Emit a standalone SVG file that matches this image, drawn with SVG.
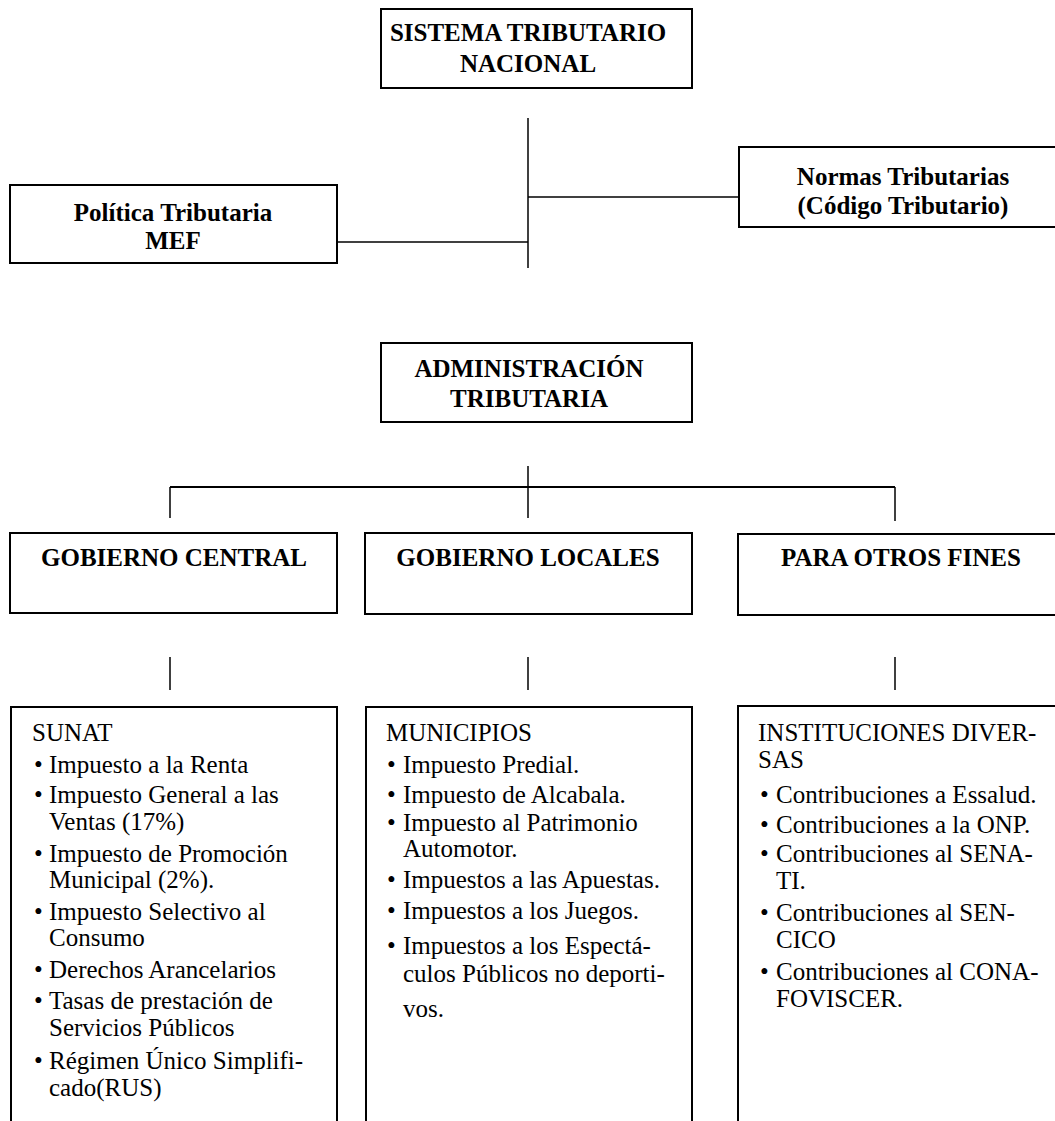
<svg xmlns="http://www.w3.org/2000/svg" width="1055" height="1121" viewBox="0 0 1055 1121">
<style>
.box{fill:#fff;stroke:#000;stroke-width:2}
.ln{stroke:#000;stroke-width:1.5;fill:none}
.hd{font-family:"Liberation Serif","Times New Roman",serif;font-weight:bold;font-size:25px;fill:#000;text-anchor:middle}
.tx{font-family:"Liberation Serif","Times New Roman",serif;font-size:25px;fill:#000}
</style>
<rect width="1055" height="1121" fill="#fff"/>
<g id="connectors">
<line class="ln" x1="528" y1="118" x2="528" y2="268"/>
<line class="ln" x1="337" y1="242" x2="528" y2="242"/>
<line class="ln" x1="528" y1="197" x2="739" y2="197"/>
<line class="ln" x1="528" y1="466" x2="528" y2="518"/>
<line class="ln" x1="170" y1="487" x2="895" y2="487" style="stroke-width:2"/>
<line class="ln" x1="170" y1="487" x2="170" y2="518"/>
<line class="ln" x1="895" y1="487" x2="895" y2="521"/>
<line class="ln" x1="170" y1="657" x2="170" y2="690"/>
<line class="ln" x1="528" y1="657" x2="528" y2="690"/>
<line class="ln" x1="895" y1="657" x2="895" y2="690"/>
</g>
<g id="sistema">
<rect class="box" x="381" y="9" width="311" height="79"/>
<text class="hd" x="528" y="41">SISTEMA TRIBUTARIO</text>
<text class="hd" x="528" y="72">NACIONAL</text>
</g>
<g id="politica">
<rect class="box" x="10" y="185" width="327" height="78"/>
<text class="hd" x="173" y="221">Política Tributaria</text>
<text class="hd" x="173" y="249">MEF</text>
</g>
<g id="normas">
<rect class="box" x="739" y="147" width="330" height="80"/>
<text class="hd" x="903" y="185">Normas Tributarias</text>
<text class="hd" x="903" y="214">(Código Tributario)</text>
</g>
<g id="administracion">
<rect class="box" x="381" y="343" width="311" height="79"/>
<text class="hd" x="529" y="377">ADMINISTRACIÓN</text>
<text class="hd" x="529" y="407">TRIBUTARIA</text>
</g>
<g id="gobierno-central">
<rect class="box" x="10" y="533" width="327" height="80"/>
<text class="hd" x="174" y="566">GOBIERNO CENTRAL</text>
</g>
<g id="gobierno-locales">
<rect class="box" x="365" y="533" width="327" height="81"/>
<text class="hd" x="528" y="566">GOBIERNO LOCALES</text>
</g>
<g id="otros-fines">
<rect class="box" x="738" y="534" width="330" height="81"/>
<text class="hd" x="901" y="566">PARA OTROS FINES</text>
</g>
<g id="sunat">
<rect class="box" x="11" y="707" width="326" height="430"/>
<text class="tx" x="32" y="741">SUNAT</text>
<text class="tx" x="34" y="773">•</text><text class="tx" x="49" y="773">Impuesto a la Renta</text>
<text class="tx" x="34" y="803">•</text><text class="tx" x="49" y="803">Impuesto General a las</text>
<text class="tx" x="49" y="830">Ventas (17%)</text>
<text class="tx" x="34" y="862">•</text><text class="tx" x="49" y="862">Impuesto de Promoción</text>
<text class="tx" x="49" y="888">Municipal (2%).</text>
<text class="tx" x="34" y="920">•</text><text class="tx" x="49" y="920">Impuesto Selectivo al</text>
<text class="tx" x="49" y="946">Consumo</text>
<text class="tx" x="34" y="978">•</text><text class="tx" x="49" y="978">Derechos Arancelarios</text>
<text class="tx" x="34" y="1009">•</text><text class="tx" x="49" y="1009">Tasas de prestación de</text>
<text class="tx" x="49" y="1036">Servicios Públicos</text>
<text class="tx" x="34" y="1069">•</text><text class="tx" x="49" y="1069">Régimen Único Simplifi-</text>
<text class="tx" x="49" y="1096">cado(RUS)</text>
</g>
<g id="municipios">
<rect class="box" x="366" y="707" width="326" height="430"/>
<text class="tx" x="386" y="741">MUNICIPIOS</text>
<text class="tx" x="387" y="773">•</text><text class="tx" x="403" y="773">Impuesto Predial.</text>
<text class="tx" x="387" y="803">•</text><text class="tx" x="403" y="803">Impuesto de Alcabala.</text>
<text class="tx" x="387" y="831">•</text><text class="tx" x="403" y="831">Impuesto al Patrimonio</text>
<text class="tx" x="403" y="857">Automotor.</text>
<text class="tx" x="387" y="888">•</text><text class="tx" x="403" y="888">Impuestos a las Apuestas.</text>
<text class="tx" x="387" y="919">•</text><text class="tx" x="403" y="919">Impuestos a los Juegos.</text>
<text class="tx" x="387" y="954">•</text><text class="tx" x="403" y="954">Impuestos a los Espectá-</text>
<text class="tx" x="403" y="982">culos Públicos no deporti-</text>
<text class="tx" x="403" y="1017">vos.</text>
</g>
<g id="instituciones">
<rect class="box" x="738" y="706" width="330" height="430"/>
<text class="tx" x="758" y="741">INSTITUCIONES DIVER-</text>
<text class="tx" x="758" y="768">SAS</text>
<text class="tx" x="760" y="803">•</text><text class="tx" x="776" y="803">Contribuciones a Essalud.</text>
<text class="tx" x="760" y="833">•</text><text class="tx" x="776" y="833">Contribuciones a la ONP.</text>
<text class="tx" x="760" y="862">•</text><text class="tx" x="776" y="862">Contribuciones al SENA-</text>
<text class="tx" x="776" y="889">TI.</text>
<text class="tx" x="760" y="921">•</text><text class="tx" x="776" y="921">Contribuciones al SEN-</text>
<text class="tx" x="776" y="948">CICO</text>
<text class="tx" x="760" y="980">•</text><text class="tx" x="776" y="980">Contribuciones al CONA-</text>
<text class="tx" x="776" y="1007">FOVISCER.</text>
</g>
</svg>
